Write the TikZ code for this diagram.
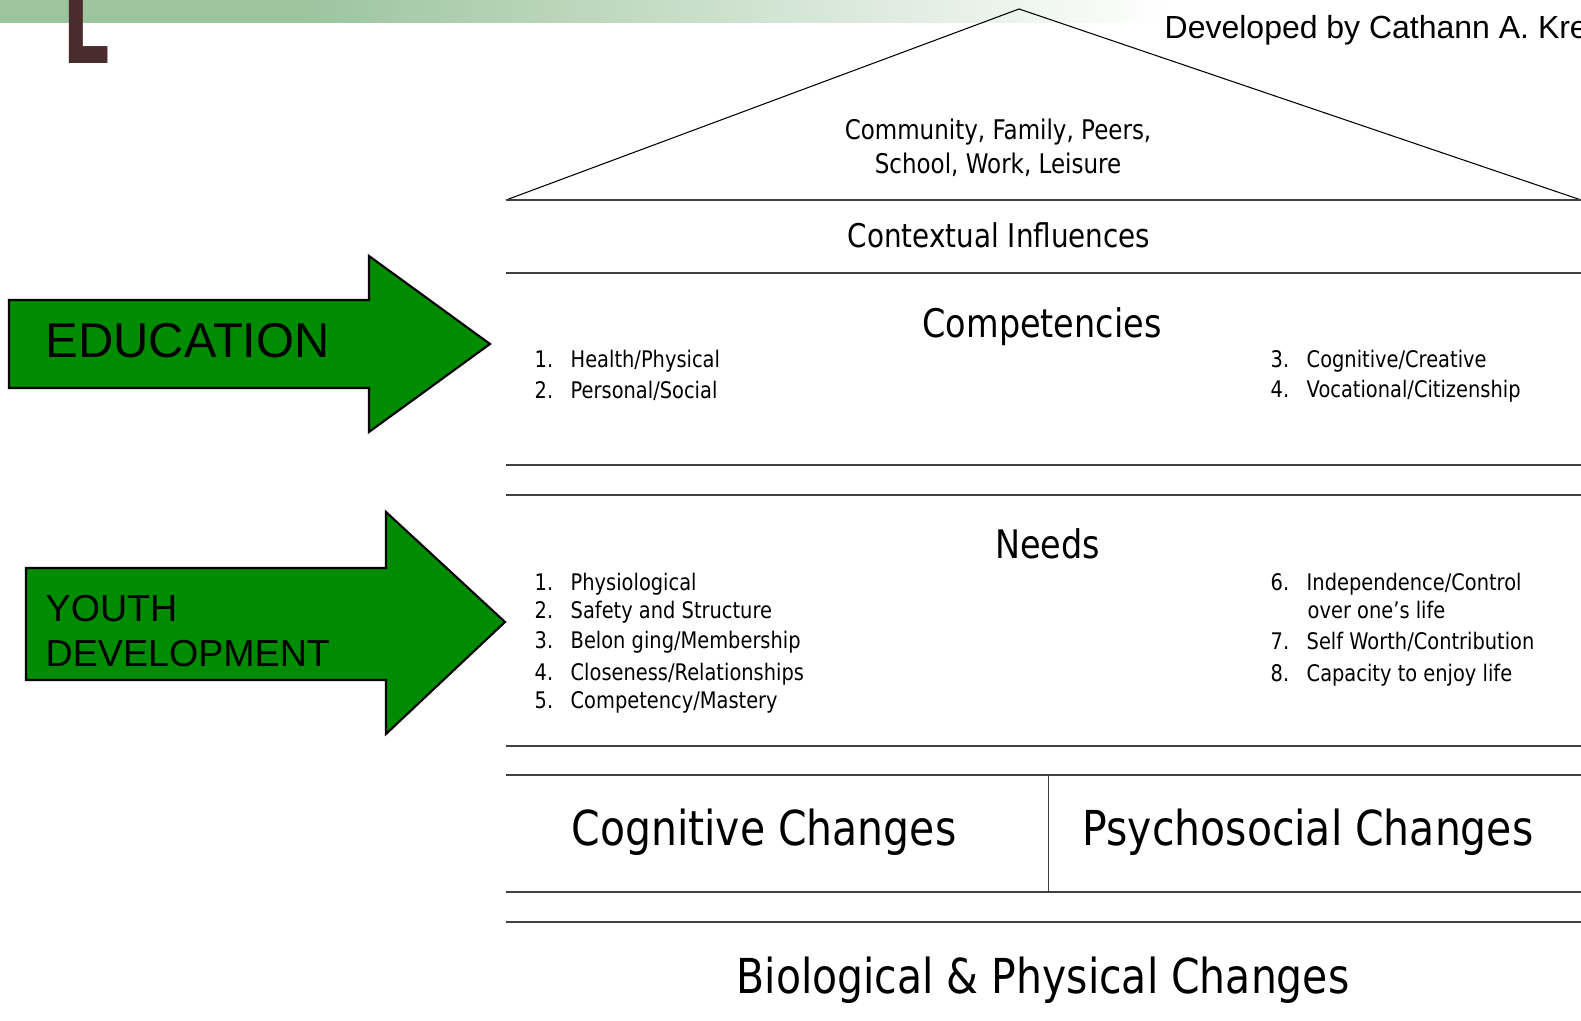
\documentclass[tikz,border=0pt]{standalone}
\usepackage{fontspec}
\setmainfont{Liberation Sans}
\newfontfamily\tahoma[FakeStretch=0.85]{DejaVu Sans}
\newfontfamily\titlefont{DejaVu Sans}
\usepackage{xcolor}
\definecolor{arrowgreen}{HTML}{008C00}
\definecolor{bargreen}{HTML}{9CC49D}
\definecolor{titlebrown}{HTML}{4B2C2C}
\definecolor{rulegray}{HTML}{404040}
\newcommand{\itm}[2]{\makebox[0.36cm][l]{#1.}#2}

\begin{document}
\begin{tikzpicture}[scale=0.1,every text node part/.style={align=center}]
\tikzstyle{every node}+=[inner sep=0pt]
\tikzstyle{rule}=[rulegray,line width=0.5pt]
\tikzstyle{roof}=[black,line width=0.3pt]
\tikzstyle{bigarrow}=[fill=arrowgreen,draw=black,line width=0.6pt,line join=miter]
\tikzstyle{listtext}=[anchor=base west,font=\tahoma\fontsize{6.5}{7.5}\selectfont]
\tikzstyle{heading}=[anchor=base,font=\tahoma\fontsize{11.2}{13}\selectfont]
\tikzstyle{change}=[anchor=base,font=\tahoma\fontsize{13.7}{16}\selectfont]
\useasboundingbox (0,0) rectangle (158.1,-102.1);
\fill [white] (0,0) rectangle (158.1,-102.1);
\fill [bargreen] (0,0) rectangle (30,-2.27);
\shade [left color=bargreen,right color=white] (29.9,0) rectangle (117,-2.27);
\draw (6.15,-6.4) node[anchor=base west,yscale=1.6,text=titlebrown,font=\titlefont\bfseries\fontsize{21.2}{22}\selectfont] (title) {L};
\draw (116.4,-3.9) node[anchor=base west,font=\fontsize{9.1}{10}\selectfont] (credit) {Developed by Cathann A. Kress};
\coordinate (eaveL) at (50.6,-20.0);
\coordinate (apex) at (101.9,-0.9);
\coordinate (eaveR) at (158.1,-20.0);
\draw [roof] (eaveL) -- (apex) -- (eaveR);
\draw [rule] (50.6,-20.0) -- (158.1,-20.0);
\draw [rule] (50.6,-27.3) -- (158.1,-27.3);
\draw [rule] (50.6,-46.5) -- (158.1,-46.5);
\draw [rule] (50.6,-49.5) -- (158.1,-49.5);
\draw [rule] (50.6,-74.6) -- (158.1,-74.6);
\draw [rule] (50.6,-77.5) -- (158.1,-77.5);
\draw [rule] (50.6,-89.2) -- (158.1,-89.2);
\draw [rule] (50.6,-92.2) -- (158.1,-92.2);
\draw [rule] (104.85,-77.5) -- (104.85,-89.2);
\draw (99.8,-14.75) node[font=\tahoma\fontsize{7.7}{9.7}\selectfont] (context) {Community, Family, Peers,\\School, Work, Leisure};
\draw (99.9,-23.5) node[font=\tahoma\fontsize{9.3}{11}\selectfont] (ctxlabel) {Contextual Influences};
\draw (104.2,-33.8) node[heading] (comp) {Competencies};
\draw (53.4,-36.8) node[listtext] (c1) {\itm{1}{Health/Physical}};
\draw (53.4,-39.9) node[listtext] (c2) {\itm{2}{Personal/Social}};
\draw (127.0,-36.8) node[listtext] (c3) {\itm{3}{Cognitive/Creative}};
\draw (127.0,-39.8) node[listtext] (c4) {\itm{4}{Vocational/Citizenship}};
\draw (104.75,-55.9) node[heading] (needs) {Needs};
\draw (53.4,-59.1) node[listtext] (n1) {\itm{1}{Physiological}};
\draw (53.4,-61.9) node[listtext] (n2) {\itm{2}{Safety and Structure}};
\draw (53.4,-64.9) node[listtext] (n3) {\itm{3}{Belon ging/Membership}};
\draw (53.4,-68.1) node[listtext] (n4) {\itm{4}{Closeness/Relationships}};
\draw (53.4,-70.8) node[listtext] (n5) {\itm{5}{Competency/Mastery}};
\draw (127.0,-59.1) node[listtext] (n6) {\itm{6}{Independence/Control}};
\draw (130.7,-61.9) node[listtext] (n6b) {over one’s life};
\draw (127.0,-65.0) node[listtext] (n7) {\itm{7}{Self Worth/Contribution}};
\draw (127.0,-68.2) node[listtext] (n8) {\itm{8}{Capacity to enjoy life}};
\draw (76.4,-84.5) node[change] (cog) {Cognitive Changes};
\draw (130.8,-84.5) node[change] (psy) {Psychosocial Changes};
\draw (104.3,-99.3) node[change] (bio) {Biological \& Physical Changes};
\draw [bigarrow] (0.9,-30.0) -- (36.9,-30.0) -- (36.9,-25.6) -- (49.0,-34.4) -- (36.9,-43.2) -- (36.9,-38.8) -- (0.9,-38.8) -- cycle;
\draw (4.5,-34.1) node[anchor=west,font=\fontsize{13.9}{16}\selectfont] (edu) {EDUCATION};
\draw [bigarrow] (2.6,-56.8) -- (38.6,-56.8) -- (38.6,-51.2) -- (50.5,-62.2) -- (38.6,-73.4) -- (38.6,-68.0) -- (2.6,-68.0) -- cycle;
\draw (4.5,-63.1) node[anchor=west,every text node part/.style={align=left},font=\fontsize{10.7}{12.8}\selectfont] (youth) {YOUTH\\DEVELOPMENT};
\end{tikzpicture}
\end{document}
